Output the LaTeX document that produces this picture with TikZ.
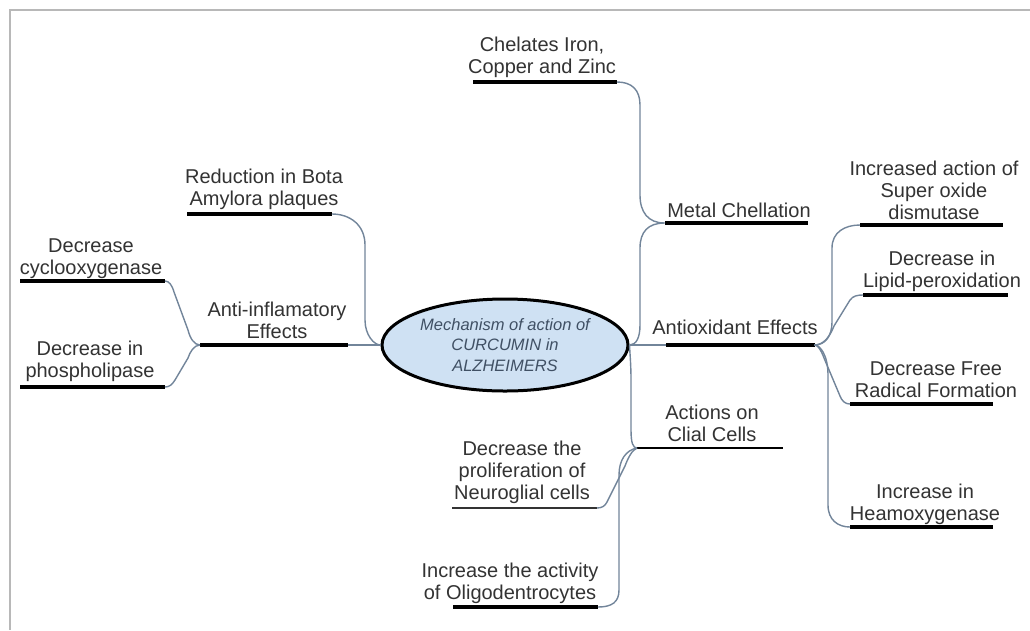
\documentclass[tikz,border=0pt]{standalone}
\usepackage{fontspec}
\setmainfont{Liberation Sans}
\usetikzlibrary{shapes.geometric}
\definecolor{txtc}{HTML}{333333}
\definecolor{connc}{HTML}{72859A}
\definecolor{ellfill}{HTML}{CFE1F3}
\definecolor{elltext}{HTML}{405064}
\definecolor{framec}{HTML}{B8B8B8}
\begin{document}
\begin{tikzpicture}[x=1pt,y=-1pt,
  lbl/.style={font=\fontsize{20}{22}\selectfont, text=txtc, align=center,
    inner sep=0pt, outer sep=0pt, anchor=south, text depth=0pt},
  bar/.style={fill=black, inner sep=0pt, outer sep=0pt, minimum height=4pt},
  thinbar/.style={fill=black!80, inner sep=0pt, outer sep=0pt, minimum height=2.2pt},
  conn/.style={draw=connc, line width=1.4pt},
  hub/.style={ellipse, draw=black, line width=3pt, fill=ellfill,
    minimum width=246pt, minimum height=92pt, inner sep=0pt,
    font=\fontsize{16.5}{20.5}\selectfont\itshape, text=elltext, align=center}
]
\useasboundingbox (0,0) rectangle (1030,630);
\fill[white] (0,0) rectangle (1030,630);
\draw[framec, line width=2pt] (10,630) -- (10,10) -- (1030,10);

% centre
\node[hub] (ell) at (505,345) {Mechanism of action of\\CURCUMIN in\\ALZHEIMERS};

% underline bars
\node[bar, minimum width=144pt] (chel) at (545,82) {};
\node[bar, minimum width=143pt] (metal) at (736,223) {};
\node[bar, minimum width=149pt] (anti) at (740,345) {};
\node[bar, minimum width=143pt] (sod) at (931.5,225) {};
\node[bar, minimum width=145pt] (lipid) at (935.5,295) {};
\node[bar, minimum width=143pt] (free) at (921.5,404) {};
\node[bar, minimum width=143pt] (heamo) at (921.5,527) {};
\node[bar, minimum width=146pt, minimum height=2.8pt] (clial) at (710,448) {};
\node[thinbar, minimum width=145pt] (neuro) at (524.5,508) {};
\node[bar, minimum width=145pt] (oligo) at (525.5,607) {};
\node[bar, minimum width=145pt] (red) at (259.5,214) {};
\node[bar, minimum width=148pt] (inflam) at (274,345) {};
\node[bar, minimum width=145pt] (cyclo) at (92.5,281) {};
\node[bar, minimum width=145pt] (phos) at (92.5,387) {};

% labels
\node[lbl] (chelT) at (542,73) {Chelates Iron,\\Copper and Zinc};
\node[lbl] (metalT) at (739,217) {Metal Chellation};
\node[lbl] (antiT) at (735,334) {Antioxidant Effects};
\node[lbl] (sodT) at (934,219) {Increased action of\\Super oxide\\dismutase};
\node[lbl] (lipidT) at (942,287) {Decrease in\\Lipid-peroxidation};
\node[lbl] (freeT) at (936,397) {Decrease Free\\Radical Formation};
\node[lbl] (heamoT) at (925,520) {Increase in\\Heamoxygenase};
\node[lbl] (clialT) at (712,441) {Actions on\\Clial Cells};
\node[lbl] (neuroT) at (522,499) {Decrease the\\proliferation of\\Neuroglial cells};
\node[lbl] (oligoT) at (510,599) {Increase the activity\\of Oligodentrocytes};
\node[lbl] (redT) at (264,205) {Reduction in Bota\\Amylora plaques};
\node[lbl] (inflamT) at (277,338) {Anti-inflamatory\\Effects};
\node[lbl] (cycloT) at (91,274) {Decrease\\cyclooxygenase};
\node[lbl] (phosT) at (90,377) {Decrease in\\phospholipase};

% connectors, right top
\draw[conn] (ell.east) .. controls (636,345) and (640,338) .. (640,325) -- (640,248)
  .. controls (640,232) and (648,223) .. (metal.west);
\draw[conn] (metal.west) .. controls (648,223) and (640,212) .. (640,195) -- (640,105)
  .. controls (640,90) and (632,82) .. (chel.east);
\draw[conn] (ell.east) -- (anti.west);
% clial
\draw[conn] (ell.east) .. controls (630,355) and (631,365) .. (631,380) -- (631,430)
  .. controls (631,443) and (633,448) .. (clial.west);
\draw[conn] (clial.west) .. controls (632,450) and (628,458) .. (625,466) -- (607,502)
  .. controls (605,506) and (602,508) .. (neuro.east);
\draw[conn] (clial.west) .. controls (626,450) and (619,460) .. (619,475) -- (619,590)
  .. controls (619,602) and (612,607) .. (oligo.east);
% antioxidant children
\draw[conn] (anti.east) .. controls (826,345) and (832,335) .. (832,322) -- (832,248)
  .. controls (832,232) and (845,225) .. (sod.west);
\draw[conn] (anti.east) .. controls (824,345) and (830,336) .. (834,326) -- (850,300)
  .. controls (853,296) and (857,295) .. (lipid.west);
\draw[conn] (anti.east) .. controls (818,345) and (821,350) .. (824,358) -- (840,396)
  .. controls (842,401) and (845,404) .. (free.west);
\draw[conn] (anti.east) .. controls (820,345) and (828,355) .. (828,375) -- (828,505)
  .. controls (828,520) and (838,527) .. (heamo.west);
% left side
\draw[conn] (ell.west) .. controls (374,345) and (365,335) .. (365,320) -- (365,245)
  .. controls (365,225) and (350,214) .. (red.east);
\draw[conn] (inflam.east) -- (ell.west);
\draw[conn] (inflam.west) .. controls (194,345) and (190,338) .. (188,330) -- (174,292)
  .. controls (172,285) and (169,281) .. (cyclo.east);
\draw[conn] (inflam.west) .. controls (194,345) and (190,352) .. (188,358) -- (175,380)
  .. controls (172,385) and (169,387) .. (phos.east);
\end{tikzpicture}
\end{document}
